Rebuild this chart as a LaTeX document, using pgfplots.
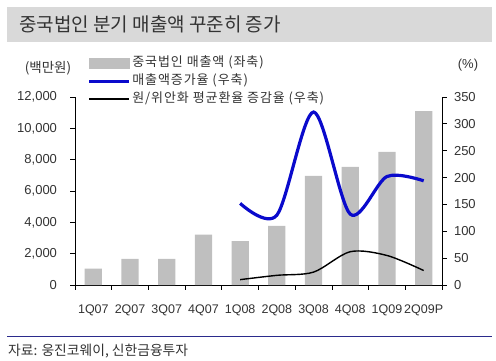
\documentclass[border=0pt]{standalone}
\usepackage{fontspec}
\usepackage{pgfplots}
\pgfplotsset{compat=1.18}
\setmainfont{Liberation Sans}
\newfontfamily\kr{Noto Sans CJK KR}
\newfontfamily\krw[LetterSpace=7]{Noto Sans CJK KR}
\definecolor{barcol}{HTML}{BFBFBF}
\definecolor{bluel}{HTML}{0A0ACC}
\definecolor{titlebg}{HTML}{D9D9D9}
\definecolor{txt}{HTML}{333333}
\definecolor{rulec}{HTML}{2B2B8C}
\begin{document}
\begin{tikzpicture}
\useasboundingbox (0pt,0pt) rectangle (496pt,360pt);
\fill[titlebg] (7pt,318pt) rectangle (492pt,353pt);
\node[anchor=west, text=txt, font=\kr\fontsize{19}{21}\selectfont, inner sep=0pt] at (19pt,335.5pt) {중국법인 분기 매출액 꾸준히 증가};
\draw[rulec, line width=1pt] (7pt,24pt) -- (492pt,24pt);
\node[anchor=west, text=txt, font=\kr\fontsize{13.8}{15}\selectfont, inner sep=0pt] at (8pt,8.5pt) {자료: 웅진코웨이, 신한금융투자};
\node[text=txt, font=\kr\fontsize{13.5}{15}\selectfont, inner sep=0pt] at (48pt,292pt) {(백만원)};
\node[text=txt, font=\fontsize{13}{15}\selectfont, inner sep=0pt] at (468pt,295pt) {(\%)};

\begin{axis}[at={(75pt,75pt)}, anchor=south west, scale only axis, width=367pt, height=188pt,
  xmin=-0.5, xmax=9.5, ymin=0, ymax=12000,
  axis x line*=bottom, axis y line*=left,
  axis line style={black, line width=0.8pt},
  tick style={black, line width=0.8pt},
  major tick length=4.5pt, tick align=outside,
  xtick={-0.5,0.5,...,9.5},
  xticklabels={1Q07,2Q07,3Q07,4Q07,1Q08,2Q08,3Q08,4Q08,1Q09,2Q09P},
  x tick label as interval,
  ytick={0,2000,...,12000},
  scaled y ticks=false,
  /pgf/number format/.cd, 1000 sep={,}, assume math mode=true, /pgfplots/.cd,
  x tick label style={font=\fontsize{12.5}{14}\selectfont, text=txt, yshift=-12pt},
  y tick label style={font=\fontsize{13}{15}\selectfont, text=txt, xshift=-10pt},
  clip=false]
\addplot[ybar, bar width=0.47, bar shift=0pt, fill=barcol, draw=none] coordinates {
(0,1040) (1,1670) (2,1670) (3,3220) (4,2800) (5,3780) (6,6970) (7,7540) (8,8500) (9,11100)};
\end{axis}

\begin{axis}[at={(75pt,75pt)}, anchor=south west, scale only axis, width=367pt, height=188pt,
  xmin=-0.5, xmax=9.5, ymin=0, ymax=350,
  axis x line=none, axis y line*=right,
  axis line style={black, line width=0.8pt},
  tick style={black, line width=0.8pt},
  major tick length=4.5pt, tick align=outside,
  ytick={0,50,...,350},
  /pgf/number format/.cd, assume math mode=true, /pgfplots/.cd,
  y tick label style={font=\fontsize{13}{15}\selectfont, text=txt, xshift=4pt},
  legend style={at={(axis description cs:0.034,1.229)}, anchor=north west, draw=none, fill=none,
    font=\krw\fontsize{13}{15}\selectfont, text=txt, row sep=0pt, inner sep=0pt,
    nodes={inner sep=1.5pt, text height=11pt, text depth=4pt}},
  legend cell align=left,
  legend image code/.code={\draw[#1] (0pt,0pt) -- (40pt,0pt);},
  clip=false]
\addlegendimage{legend image code/.code={\fill[barcol] (0pt,-5pt) rectangle (40pt,5pt);}}
\addlegendentry{중국법인 매출액 (좌축)}
\addplot[bluel, line width=3.2pt, smooth] coordinates {
(4,152) (5,130) (6,322) (7,132) (8,202) (9,194)};
\addlegendentry{매출액증가율 (우축)}
\addplot[black, line width=1.4pt, smooth] coordinates {
(4,10) (5,18) (6,24) (7,62) (8,55) (9,27)};
\addlegendentry{원/위안화 평균환율 증감율 (우축)}
\end{axis}
\end{tikzpicture}
\end{document}
